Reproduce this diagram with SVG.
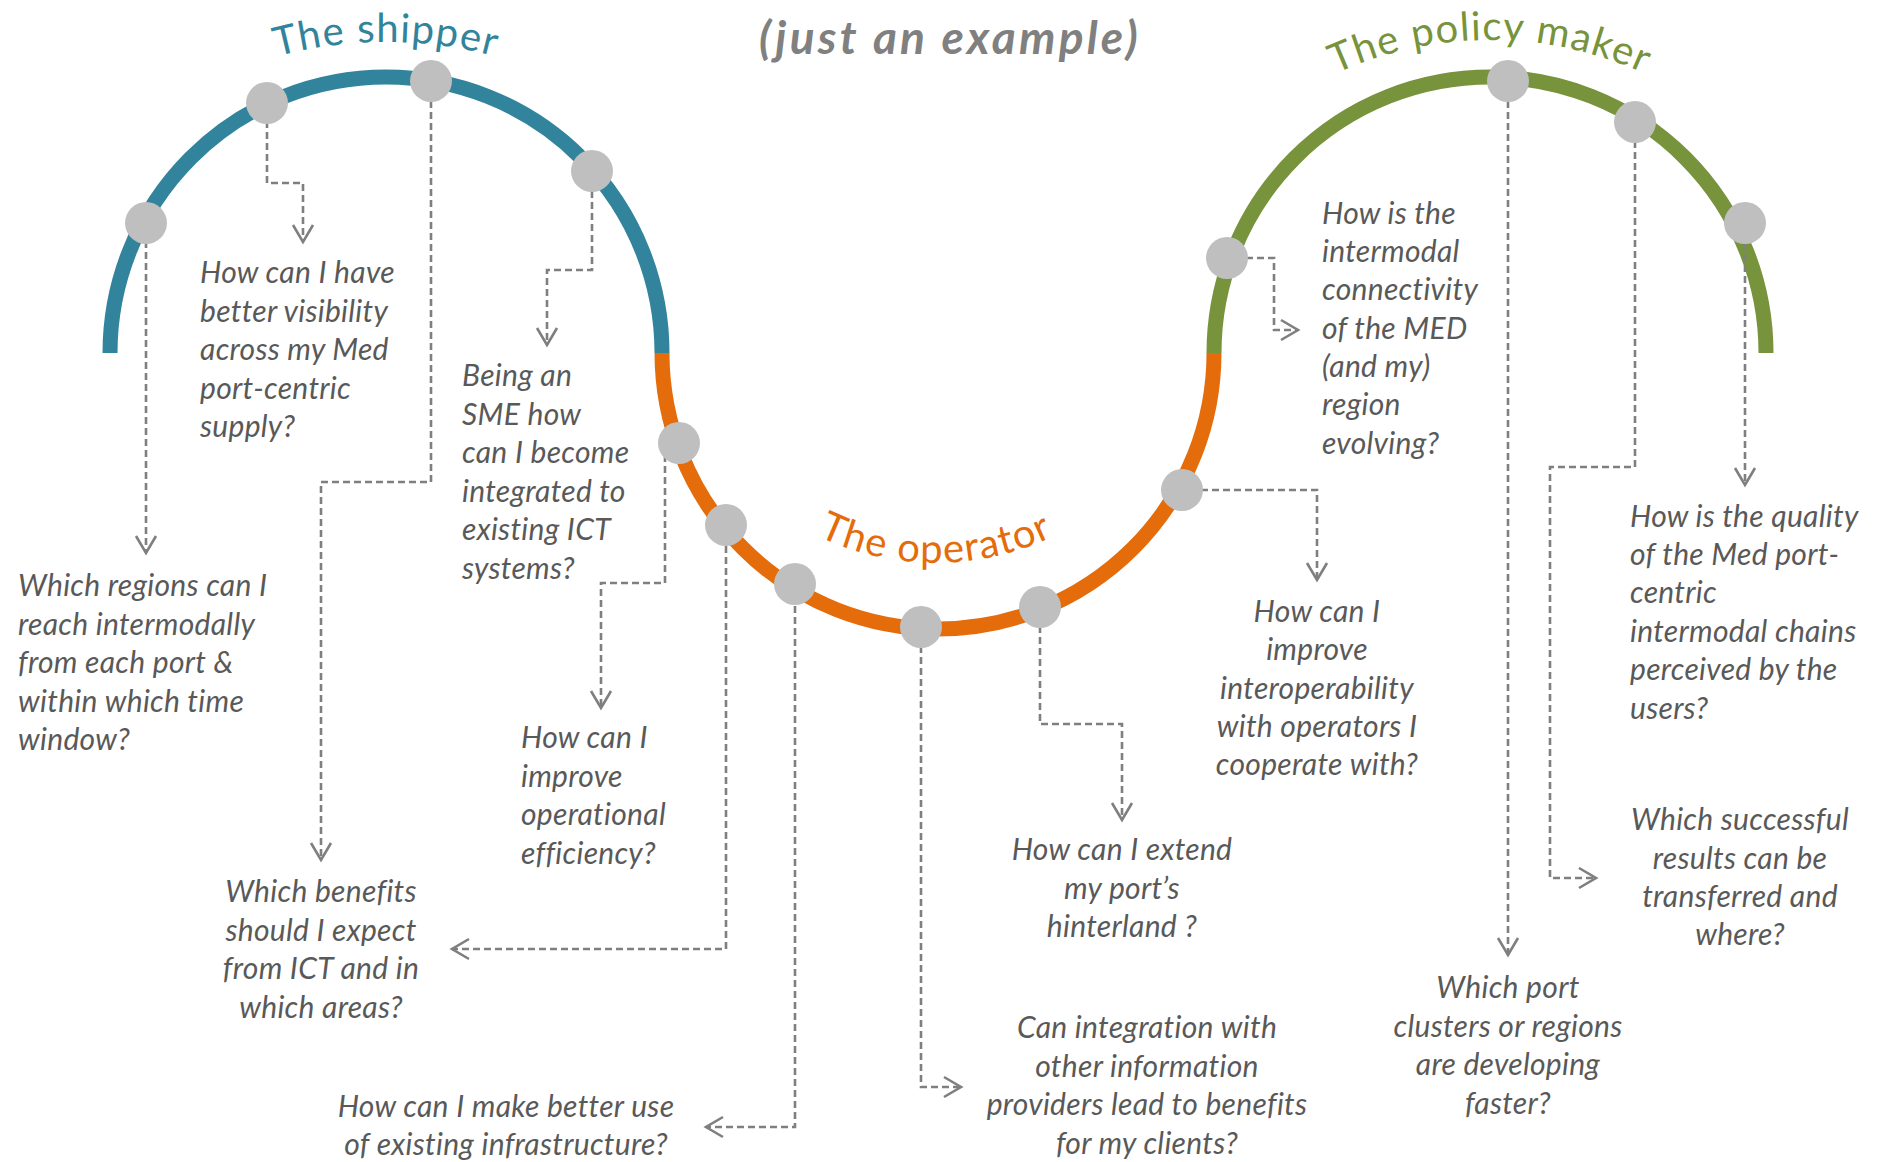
<svg xmlns="http://www.w3.org/2000/svg" width="1877" height="1162" viewBox="0 0 1877 1162">
<style>
.arc{fill:none;stroke-width:15;stroke-linecap:butt}
.dot{fill:#BFBFBF}
.cn{fill:none;stroke:#7F7F7F;stroke-width:2.6;stroke-dasharray:7 4;marker-end:url(#chev)}
.q{font-family:Lato,"Open Sans",sans-serif;font-style:italic;font-size:30px;letter-spacing:0.3px;fill:#595959}
.m{text-anchor:middle}
.ttl{font-family:Lato,"Open Sans",sans-serif;font-size:40px;letter-spacing:1.3px}
</style>
<defs>
<marker id="chev" markerUnits="userSpaceOnUse" markerWidth="22" markerHeight="24" viewBox="0 0 22 24" refX="19" refY="12" orient="auto">
<path d="M2,2 L19,12 L2,22" fill="none" stroke="#7F7F7F" stroke-width="2.6"/>
</marker>
<path id="pShip" d="M-34,462 A420,420 0 0 1 806,462"/>
<path id="pPol" d="M1120,410 A370,370 0 0 1 1860,410"/>
<path id="pOp" d="M663,290 A273,273 0 0 0 1209,290"/>
</defs>
<rect width="1877" height="1162" fill="#FFFFFF"/>
<g id="arcs">
<path class="arc" stroke="#31849B" d="M110,353 A276,276 0 0 1 662,353"/>
<path class="arc" stroke="#E46C0A" d="M662,353 A276,276 0 0 0 1214,353"/>
<path class="arc" stroke="#77933C" d="M1214,353 A276,276 0 0 1 1766,353"/>
</g>
<g id="connectors">
<path class="cn" d="M146,230 V553"/>
<path class="cn" d="M267,110 V183 H303 V242"/>
<path class="cn" d="M431,90 V482 H321 V860"/>
<path class="cn" d="M592,180 V270 H547 V345"/>
<path class="cn" d="M665,455 V583 H601 V708"/>
<path class="cn" d="M726,535 V949 H452"/>
<path class="cn" d="M795,595 V1127 H706"/>
<path class="cn" d="M921,635 V1087 H961"/>
<path class="cn" d="M1040,615 V724 H1122 V820"/>
<path class="cn" d="M1190,490 H1317 V580"/>
<path class="cn" d="M1235,258 H1274 V330 H1298"/>
<path class="cn" d="M1508,90 V955"/>
<path class="cn" d="M1635,130 V467 H1550 V878 H1596"/>
<path class="cn" d="M1745,232 V485"/>
</g>
<g id="dots">
<circle id="d-s1" class="dot" cx="146" cy="223" r="21"/>
<circle id="d-s2" class="dot" cx="267" cy="103" r="21"/>
<circle id="d-s3" class="dot" cx="431" cy="81" r="21"/>
<circle id="d-s4" class="dot" cx="592" cy="171" r="21"/>
<circle id="d-o1" class="dot" cx="679" cy="443" r="21"/>
<circle id="d-o2" class="dot" cx="726" cy="525" r="21"/>
<circle id="d-o3" class="dot" cx="795" cy="584" r="21"/>
<circle id="d-o4" class="dot" cx="921" cy="627" r="21"/>
<circle id="d-o5" class="dot" cx="1040" cy="607" r="21"/>
<circle id="d-o6" class="dot" cx="1182" cy="490" r="21"/>
<circle id="d-p1" class="dot" cx="1227" cy="258" r="21"/>
<circle id="d-p2" class="dot" cx="1508" cy="81" r="21"/>
<circle id="d-p3" class="dot" cx="1635" cy="122" r="21"/>
<circle id="d-p4" class="dot" cx="1745" cy="223" r="21"/>
</g>
<g id="title-shipper"><text class="ttl" fill="#31849B"><textPath href="#pShip" startOffset="50%" text-anchor="middle">The shipper</textPath></text></g>
<g id="title-policy"><text class="ttl" fill="#77933C"><textPath href="#pPol" startOffset="50%" text-anchor="middle">The policy maker</textPath></text></g>
<g id="title-operator"><text class="ttl" fill="#E46C0A"><textPath href="#pOp" startOffset="50%" text-anchor="middle">The operator</textPath></text></g>
<g id="title-example"><text x="950" y="54" text-anchor="middle" font-family="Lato,'Open Sans',sans-serif" font-weight="bold" font-style="italic" font-size="46" letter-spacing="3.2" fill="#808080">(just an example)</text></g>
<g id="q-visibility"><text class="q"><tspan x="200" y="283">How can I have</tspan><tspan x="200" y="321.5">better visibility</tspan><tspan x="200" y="360">across my Med</tspan><tspan x="200" y="398.5">port-centric</tspan><tspan x="200" y="437">supply?</tspan></text></g>
<g id="q-regions"><text class="q"><tspan x="18" y="596">Which regions can I</tspan><tspan x="18" y="634.5">reach intermodally</tspan><tspan x="18" y="673">from each port &amp;</tspan><tspan x="18" y="711.5">within which time</tspan><tspan x="18" y="750">window?</tspan></text></g>
<g id="q-sme"><text class="q"><tspan x="462" y="386">Being an</tspan><tspan x="462" y="424.5">SME how</tspan><tspan x="462" y="463">can I become</tspan><tspan x="462" y="501.5">integrated to</tspan><tspan x="462" y="540">existing ICT</tspan><tspan x="462" y="578.5">systems?</tspan></text></g>
<g id="q-efficiency"><text class="q"><tspan x="521" y="748">How can I</tspan><tspan x="521" y="786.5">improve</tspan><tspan x="521" y="825">operational</tspan><tspan x="521" y="863.5">efficiency?</tspan></text></g>
<g id="q-benefits"><text class="q m"><tspan x="321" y="902">Which benefits</tspan><tspan x="321" y="940.5">should I expect</tspan><tspan x="321" y="979">from ICT and in</tspan><tspan x="321" y="1017.5">which areas?</tspan></text></g>
<g id="q-infrastructure"><text class="q m"><tspan x="506" y="1117">How can I make better use</tspan><tspan x="506" y="1155">of existing infrastructure?</tspan></text></g>
<g id="q-integration"><text class="q m"><tspan x="1147" y="1038">Can integration with</tspan><tspan x="1147" y="1076.5">other information</tspan><tspan x="1147" y="1115">providers lead to benefits</tspan><tspan x="1147" y="1153.5">for my clients?</tspan></text></g>
<g id="q-hinterland"><text class="q m"><tspan x="1122" y="860">How can I extend</tspan><tspan x="1122" y="898.5">my port’s</tspan><tspan x="1122" y="937">hinterland ?</tspan></text></g>
<g id="q-interoperability"><text class="q m"><tspan x="1317" y="622">How can I</tspan><tspan x="1317" y="660">improve</tspan><tspan x="1317" y="698.5">interoperability</tspan><tspan x="1317" y="737">with operators I</tspan><tspan x="1317" y="775">cooperate with?</tspan></text></g>
<g id="q-connectivity"><text class="q"><tspan x="1322" y="224">How is the</tspan><tspan x="1322" y="262">intermodal</tspan><tspan x="1322" y="300">connectivity</tspan><tspan x="1322" y="338.5">of the MED</tspan><tspan x="1322" y="377">(and my)</tspan><tspan x="1322" y="415">region</tspan><tspan x="1322" y="453.5">evolving?</tspan></text></g>
<g id="q-quality"><text class="q"><tspan x="1630" y="527">How is the quality</tspan><tspan x="1630" y="565">of the Med port-</tspan><tspan x="1630" y="603">centric</tspan><tspan x="1630" y="641.5">intermodal chains</tspan><tspan x="1630" y="680">perceived by the</tspan><tspan x="1630" y="718.5">users?</tspan></text></g>
<g id="q-transfer"><text class="q m"><tspan x="1740" y="830">Which successful</tspan><tspan x="1740" y="868.5">results can be</tspan><tspan x="1740" y="907">transferred and</tspan><tspan x="1740" y="945">where?</tspan></text></g>
<g id="q-clusters"><text class="q m"><tspan x="1508" y="998">Which port</tspan><tspan x="1508" y="1036.5">clusters or regions</tspan><tspan x="1508" y="1075">are developing</tspan><tspan x="1508" y="1113.5">faster?</tspan></text></g>
</svg>
